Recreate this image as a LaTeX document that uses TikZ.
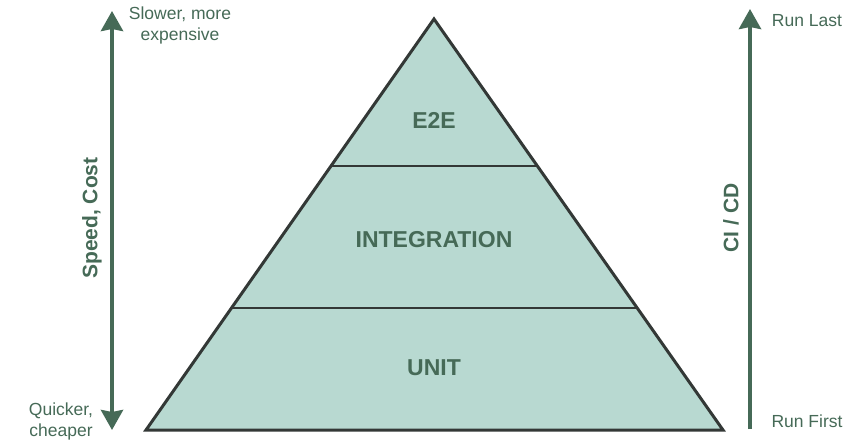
\documentclass[tikz,border=0pt]{standalone}
\usepackage{fontspec}
\setmainfont{Liberation Sans}
\usetikzlibrary{arrows.meta}
\definecolor{pyrfill}{HTML}{B8D9D1}
\definecolor{pyrline}{HTML}{333836}
\definecolor{darkgreen}{HTML}{466A57}
\tikzset{
  layer/.style={font=\fontsize{23}{27}\selectfont\bfseries, text=darkgreen},
  side/.style={font=\fontsize{17.5}{21}\selectfont, text=darkgreen, align=center, inner sep=0pt},
  axis/.style={font=\fontsize{21}{25}\selectfont\bfseries, text=darkgreen, rotate=90, inner sep=0pt},
  arr/.style={line width=4pt, draw=darkgreen, -{Stealth[width=22pt,length=20pt,inset=2pt]}}
}
\begin{document}
\begin{tikzpicture}[x=1pt,y=-1pt]
  \useasboundingbox (0,0) rectangle (868,447);
  \draw[pyrline, fill=pyrfill, line width=3pt, line join=miter] (146,430) -- (434,19) -- (723,430) -- cycle;
  \draw[pyrline, line width=2.5pt] (331,166) -- (537,166) (232,308) -- (638,308);
  \node[layer] (e2e) at (434,120) {E2E};
  \node[layer] (integ) at (434,240) {INTEGRATION};
  \node[layer] (unit) at (434,368) {UNIT};
  % left axis
  \coordinate (lmid) at (112,220);
  \coordinate (ltop) at (112,11);
  \coordinate (lbot) at (112,430);
  \draw[arr] (lmid) -- (ltop);
  \draw[arr] (lmid) -- (lbot);
  \node[axis] (speed) at (92,218) {Speed, Cost};
  \node[side] (slow) at (180,25) {Slower, more\\expensive};
  \node[side] (quick) at (61,421) {Quicker,\\cheaper};
  % right axis
  \coordinate (rtop) at (750,9);
  \coordinate (rbot) at (750,429);
  \draw[arr] (rbot) -- (rtop);
  \node[axis] (cicd) at (731,218) {CI / CD};
  \node[side] (last) at (807,21) {Run Last};
  \node[side] (first) at (807,421) {Run First};
\end{tikzpicture}
\end{document}
